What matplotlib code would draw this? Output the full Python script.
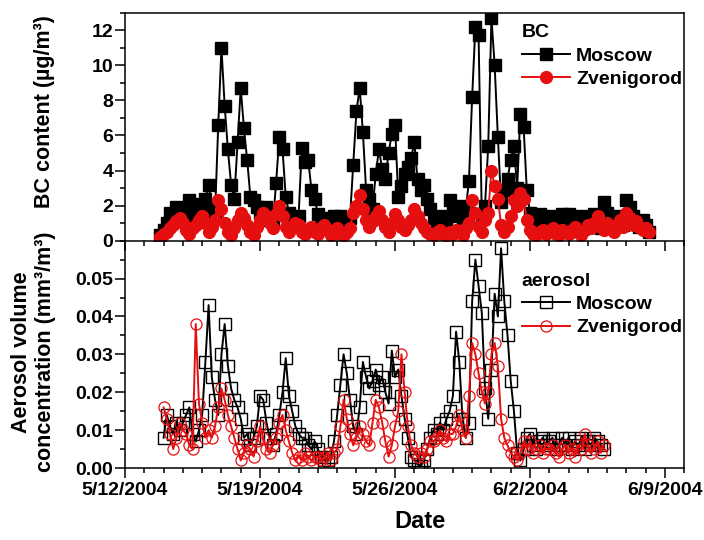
import matplotlib
matplotlib.use('Agg')
import matplotlib.pyplot as plt
import matplotlib.dates as mdates
from matplotlib.ticker import MultipleLocator, FormatStrFormatter
import numpy as np
import pandas as pd

plt.rcParams['font.family'] = ['Liberation Sans', 'DejaVu Sans']
plt.rcParams['font.weight'] = 'bold'

# 4-hourly series
bc_start = '2004-05-13 20:00'
aer_start = '2004-05-14 00:00'
step = '4h'

# BC content, ug/m3
bc_moscow = [0.3,
    0.6, 1.0, 1.6, 1.2, 1.9, 1.4,
    1.1, 1.6, 2.3, 1.8, 1.2, 2.1,
    2.0, 2.4, 3.2, 1.9, 1.5, 6.6,
    11.0, 7.7, 5.2, 3.2, 2.4, 5.6,
    8.7, 6.4, 4.6, 2.5, 2.3, 1.9,
    1.6, 1.3, 1.9, 1.2, 1.0, 3.3,
    5.9, 5.2, 2.5, 1.6, 1.2, 1.0,
    1.4, 5.3, 4.5, 4.6, 2.9, 2.4,
    1.5, 1.2, 0.9, 1.3, 1.0, 1.4,
    1.2, 1.4, 0.8, 1.0, 1.3, 4.3,
    7.4, 8.7, 6.2, 2.9, 2.4, 1.8,
    3.8, 5.2, 4.1, 3.5, 5.0, 6.1,
    6.6, 2.5, 3.1, 3.8, 4.2, 4.7,
    5.6, 3.5, 2.9, 3.2, 2.4, 1.8,
    1.3, 1.0, 0.9, 1.4, 1.1, 2.3,
    1.6, 1.4, 2.0, 1.3, 1.8, 3.4,
    8.2, 12.2, 11.7, 1.4, 2.0, 5.4,
    12.7, 10.0, 5.9, 2.2, 2.9, 3.5,
    4.6, 5.4, 3.0, 7.2, 6.5, 2.9,
    1.6, 1.2, 0.8, 1.5, 1.0, 1.3,
    1.4, 0.9, 0.6, 1.1, 1.5, 0.8,
    1.5, 1.2, 0.7, 1.0, 1.4, 1.1,
    1.3, 0.8, 1.5, 1.0, 0.7, 2.2,
    1.6, 1.0, 0.8, 1.4, 1.2, 0.9,
    2.3, 1.9, 1.4, 1.1, 0.8, 1.2,
    0.9, 0.5]

bc_zvenigorod = [0.2,
    0.4, 0.5, 0.7, 0.9, 1.1, 1.3,
    1.0, 0.6, 0.4, 0.7, 0.9, 1.2,
    1.4, 1.0, 0.5, 0.8, 1.2, 2.3,
    1.8, 1.0, 0.5, 0.3, 0.7, 1.2,
    1.6, 1.3, 0.9, 0.5, 0.3, 0.8,
    1.2, 1.6, 1.4, 1.0, 0.7, 1.5,
    2.0, 1.4, 0.8, 0.5, 0.8, 1.0,
    0.9, 0.5, 0.4, 0.6, 0.8, 0.5,
    0.4, 0.7, 0.9, 0.6, 0.3, 0.5,
    0.7, 0.4, 0.3, 0.5, 0.7, 1.6,
    2.0, 2.6, 1.8, 1.2, 0.8, 1.1,
    1.4, 1.7, 1.2, 0.8, 0.5, 1.0,
    1.5, 1.2, 0.8, 0.6, 0.9, 1.2,
    1.8, 1.4, 1.0, 0.7, 0.5, 0.4,
    0.3, 0.5, 0.6, 0.4, 0.3, 0.5,
    0.4, 0.6, 0.5, 0.3, 0.7, 1.0,
    2.3, 1.6, 0.8, 0.5, 1.2, 1.6,
    4.0, 3.1, 2.4, 0.9, 0.5, 0.8,
    1.4, 2.3, 2.0, 2.7, 2.4, 1.2,
    0.6, 0.4, 0.3, 0.5, 0.6, 0.4,
    0.5, 0.7, 0.4, 0.3, 0.6, 0.5,
    0.4, 0.6, 0.8, 0.5, 0.3, 0.6,
    0.9, 0.7, 1.0, 1.4, 0.8, 0.6,
    1.0, 0.7, 0.5, 0.9, 1.2, 0.8,
    1.6, 1.3, 0.9, 1.1, 0.8, 0.6,
    0.7, 0.5]

# aerosol volume, in 1e-3 mm3/m3
aer_moscow = [
    8, 14, 11, 9, 12, 10,
    12, 14, 16, 9, 7, 10,
    14, 28, 43, 24, 18, 14,
    30, 38, 27, 21, 18, 16,
    13, 8, 9, 6, 8, 11,
    19, 18, 12, 8, 6, 9,
    14, 20, 29, 19, 15, 11,
    9, 8, 8, 6, 5, 7,
    5, 3, 2, 2, 3, 7,
    14, 22, 30, 25, 18, 11,
    9, 16, 28, 24, 21, 23,
    26, 22, 24, 20, 17, 31,
    24, 26, 19, 13, 8, 3,
    2, 1, 0.5, 2, 5, 8,
    10, 9, 12, 10, 13, 15,
    19, 36, 28, 13, 8, 12,
    44, 55, 48, 41, 21, 13,
    26, 46, 40, 58, 44, 35,
    23, 15, 4, 2, 5, 8,
    9, 6, 5, 7, 8, 6,
    7, 8, 5, 6, 8, 6,
    8, 5, 7, 6, 8, 5,
    7, 6, 8, 7, 6, 5]

aer_zvenigorod = [
    16, 13, 9, 5, 8, 12,
    10, 9, 6, 5, 38, 17,
    12, 8, 10, 8, 11, 16,
    21, 18, 14, 11, 8, 5,
    2, 4, 6, 5, 3, 7,
    11, 8, 5, 4, 6, 8,
    12, 14, 10, 7, 4, 2,
    3, 2, 4, 3, 2, 3,
    3, 2, 3, 4, 2, 4,
    5, 11, 18, 13, 9, 6,
    8, 11, 9, 7, 6, 12,
    18, 16, 12, 7, 3, 6,
    11, 15, 30, 20, 11, 6,
    4, 3, 4, 3, 5, 7,
    7, 8, 10, 8, 7, 9,
    9, 11, 14, 10, 8, 19,
    33, 30, 25, 20, 17, 20,
    30, 33, 27, 13, 8, 6,
    4, 3, 2, 4, 7, 5,
    7, 4, 5, 6, 4, 5,
    5, 6, 4, 3, 5, 6,
    4, 5, 3, 6, 5, 9,
    6, 4, 5, 7, 4, 6]

tick_dates = ['2004-05-12', '2004-05-19', '2004-05-26', '2004-06-02', '2004-06-09']
tick_labels = ['5/12/2004', '5/19/2004', '5/26/2004', '6/2/2004', '6/9/2004']

t_bc = pd.date_range(bc_start, periods=len(bc_moscow), freq=step)
t_aer = pd.date_range(aer_start, periods=len(aer_moscow), freq=step)
aer_m = np.array(aer_moscow) * 1e-3
aer_z = np.array(aer_zvenigorod) * 1e-3

red = '#e60f0f'

fig = plt.figure(figsize=(7.04, 5.40), dpi=100)
ax1 = fig.add_axes([0.1776, 0.5543, 0.7944, 0.4222])
ax2 = fig.add_axes([0.1776, 0.1333, 0.7944, 0.4210])
ax2.patch.set_visible(False)

ax1.plot(t_bc, bc_moscow, '-s', color='black', ms=8, lw=1.4, label='Moscow')
ax1.plot(t_bc, bc_zvenigorod, '-o', color=red, ms=8.5, lw=1.4, label='Zvenigorod')

ax2.plot(t_aer, aer_m, '-s', color='black', mfc='none', ms=8, mew=1.0, lw=1.4, label='Moscow')
ax2.plot(t_aer, aer_z, '-o', color=red, mfc='none', ms=8, mew=0.9, lw=1.4, label='Zvenigorod')

xmin, xmax = pd.Timestamp('2004-05-12'), pd.Timestamp('2004-06-10')
for ax in (ax1, ax2):
    ax.set_xlim(xmin, xmax)
    ax.set_xticks(pd.to_datetime(tick_dates))
    ax.xaxis.set_minor_locator(mdates.DayLocator())
    ax.tick_params(which='major', direction='out', length=7, width=1.1, labelsize=14, pad=1.5)
    ax.tick_params(which='minor', direction='out', length=3.6, width=1.1)
    ax.tick_params(top=False, right=False)
    for s in ax.spines.values():
        s.set_linewidth(1.1)

ax1.set_xticklabels([])
ax2.set_xticklabels(tick_labels)
ax2.tick_params(axis='x', pad=3)

ax1.set_ylim(0, 13)
ax1.set_yticks([0, 2, 4, 6, 8, 10, 12])
ax1.yaxis.set_minor_locator(MultipleLocator(1))

ax2.set_ylim(0, 0.06)
ax2.set_yticks([0, 0.01, 0.02, 0.03, 0.04, 0.05])
ax2.yaxis.set_major_formatter(FormatStrFormatter('%.2f'))
ax2.yaxis.set_minor_locator(MultipleLocator(0.005))
ax2.spines['top'].set_visible(False)

leg_kw = dict(frameon=False, loc='upper left', borderpad=0, borderaxespad=0,
              handlelength=2.5, handletextpad=0.3, labelspacing=0.3,
              prop={'size': 14, 'weight': 'bold'}, alignment='left',
              title_fontproperties={'size': 14, 'weight': 'bold'})
ax1.legend(title='BC', bbox_to_anchor=(0.709, 0.95), **leg_kw)
ax2.legend(title='aerosol', bbox_to_anchor=(0.709, 0.86), **leg_kw)

fig.text(45 / 704, 1 - 112 / 540, 'BC content (µg/m³)', rotation=90,
         ha='center', va='center', fontsize=15.5)
fig.text(22 / 704, 1 - 352 / 540, 'Aerosol volume', rotation=90,
         ha='center', va='center', fontsize=15.5)
fig.text(46 / 704, 1 - 352 / 540, 'concentration (mm³/m³)', rotation=90,
         ha='center', va='center', fontsize=15.5)
fig.text(420 / 704, 1 - 522 / 540, 'Date', ha='center', va='center', fontsize=17)

fig.savefig('out.png', dpi=100)
